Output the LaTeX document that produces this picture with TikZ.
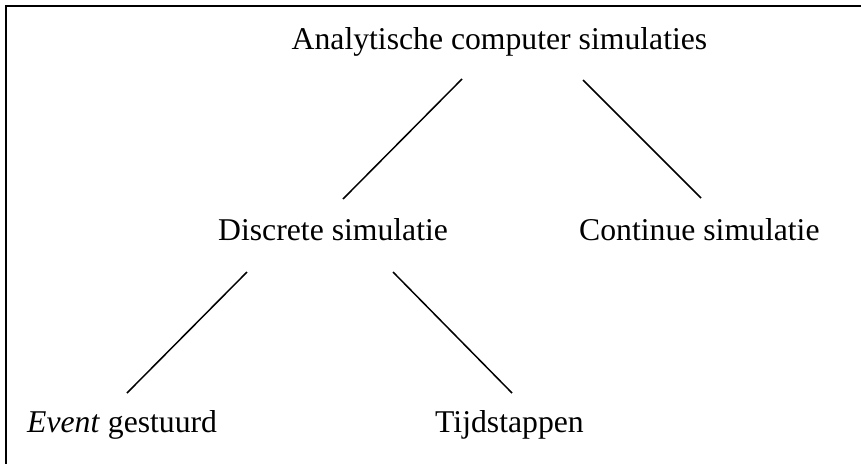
\documentclass[tikz,border=0pt]{standalone}
\usepackage{fontspec}
\setmainfont{Liberation Serif}
\begin{document}
\begin{tikzpicture}[x=1pt,y=-1pt,
  lbl/.style={anchor=base west,inner sep=0pt,font=\fontsize{31.7}{38}\selectfont},
  conn/.style={line width=1.5pt},
  frame/.style={line width=2.6pt}]
\useasboundingbox (0,0) rectangle (861,464);
\draw[frame] (861,6) -- (6,6) -- (6,464);
\node[lbl] (root) at (291.5,49) {Analytische computer simulaties};
\node[lbl] (disc) at (218,240) {Discrete simulatie};
\node[lbl] (cont) at (579,240) {Continue simulatie};
\node[lbl] (event) at (27,432) {\textit{Event} gestuurd};
\node[lbl] (tijd) at (435,432) {Tijdstappen};
\coordinate (r1) at (462,79);
\coordinate (d1) at (343,199);
\coordinate (r2) at (583,80);
\coordinate (c1) at (701,198);
\coordinate (d2) at (247,272);
\coordinate (e1) at (127,393);
\coordinate (d3) at (393,272);
\coordinate (t1) at (512,393);
\draw[conn] (r1) -- (d1);
\draw[conn] (r2) -- (c1);
\draw[conn] (d2) -- (e1);
\draw[conn] (d3) -- (t1);
\end{tikzpicture}
\end{document}
